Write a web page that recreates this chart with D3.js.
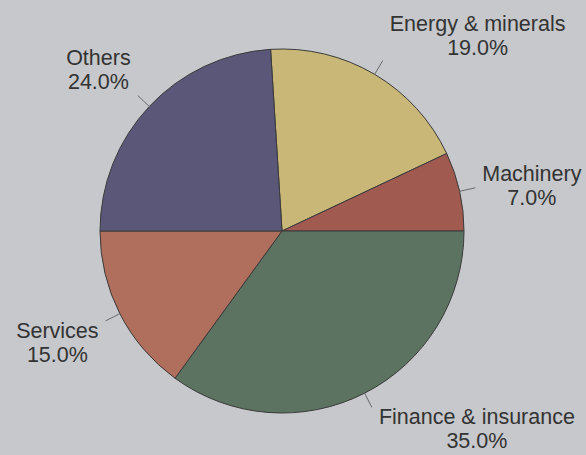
<!DOCTYPE html>
<html>
<head>
<meta charset="utf-8">
<script src="https://cdn.jsdelivr.net/npm/d3@7"></script>
<style>
  body { margin: 0; background: #c6c8cb; }
  svg { display: block; }
</style>
</head>
<body>
<div id="chart"></div>
<script>
// Shares of each sector (percent), clockwise
const categories = ["Energy & minerals", "Machinery", "Finance & insurance", "Services", "Others"];
const shares = [19.0, 7.0, 35.0, 15.0, 24.0];
const colors = ["#c9b777", "#a05a50", "#5b7360", "#af6f5c", "#5a5779"];

const width = 586, height = 455;
const cx = 282, cy = 231, radius = 182;

const svg = d3.select("#chart")
              .append("svg")
              .attr("width", width)
              .attr("height", height);

svg.append("rect")
   .attr("width", width)
   .attr("height", height)
   .attr("fill", "#c6c8cb");

// Energy & Machinery together end at the horizontal on the right
const start = Math.PI / 2 - 2 * Math.PI * (shares[0] + shares[1]) / 100;

const pie = d3.pie()
              .sort(null)
              .value(d => d.value)
              .startAngle(start)
              .endAngle(start + 2 * Math.PI);

const data = categories.map((c, i) => ({ name: c, value: shares[i], color: colors[i] }));
const arcs = pie(data);

const arc = d3.arc().innerRadius(0).outerRadius(radius);

const g = svg.append("g")
             .attr("transform", `translate(${cx},${cy})`);

g.selectAll("path")
 .data(arcs)
 .enter()
 .append("path")
 .attr("d", arc)
 .attr("fill", d => d.data.color)
 .attr("stroke", "#3a3a3a")
 .attr("stroke-width", 1);

// Leader lines and labels
const leadOuter = radius + 16;
arcs.forEach(d => {
    const a = (d.startAngle + d.endAngle) / 2;
    const sx = Math.sin(a), cyy = -Math.cos(a);
    const x0 = sx * radius, y0 = cyy * radius;
    const x1 = sx * leadOuter, y1 = cyy * leadOuter;

    g.append("line")
     .attr("x1", x0).attr("y1", y0)
     .attr("x2", x1).attr("y2", y1)
     .attr("stroke", "#6a6a6a")
     .attr("stroke-width", 1);

    const t = g.append("text")
               .attr("text-anchor", "middle")
               .attr("font-family", "Liberation Sans, Arial, sans-serif")
               .attr("font-size", 21.5)
               .attr("fill", "#333");
    const l1 = t.append("tspan").text(d.data.name);
    const l2 = t.append("tspan").text(d.data.value.toFixed(1) + "%");
    const w = Math.max(l1.node().getComputedTextLength(), l2.node().getComputedTextLength());

    const gap = 7;
    const bx = sx >= 0 ? x1 + gap + w / 2 : x1 - gap - w / 2;
    const c = Math.cos(a);
    let base;
    if (Math.abs(c) < 0.3) base = y1 - 7;
    else if (c > 0) base = y1 - 30;
    else base = y1 + 17;

    l1.attr("x", bx).attr("y", base);
    l2.attr("x", bx).attr("y", base + 24);
});
</script>
</body>
</html>
